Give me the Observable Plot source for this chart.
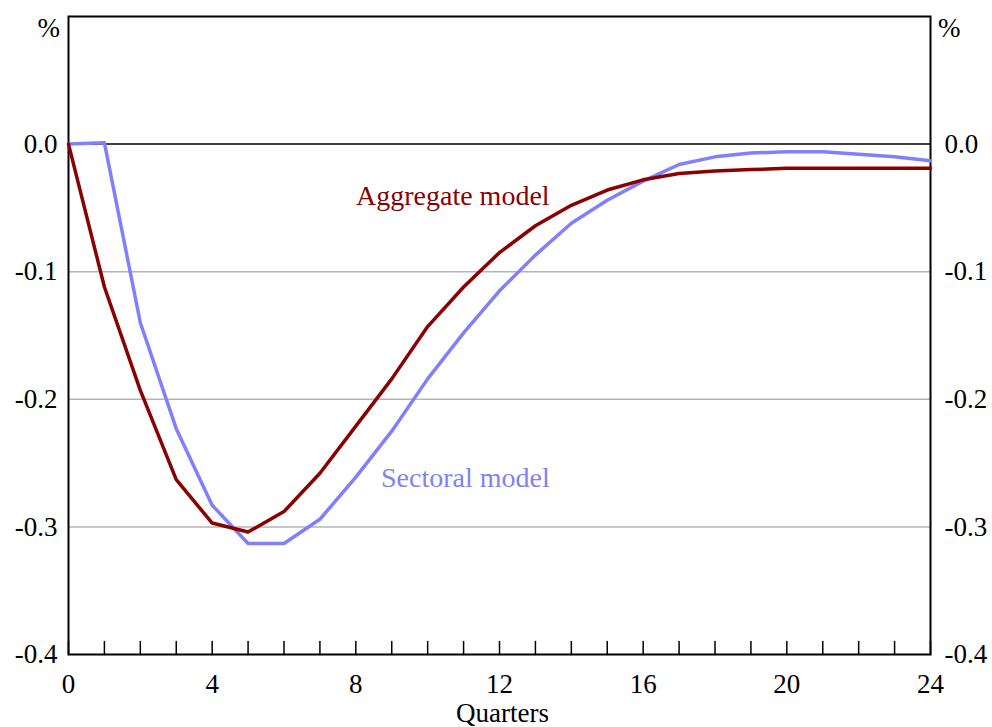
<!DOCTYPE html>
<html><head><meta charset="utf-8">
<script src="https://cdn.jsdelivr.net/npm/d3@7"></script>
<script src="https://cdn.jsdelivr.net/npm/@observablehq/plot@0.6"></script>
<style>body{margin:0;background:#fff}</style>
</head><body><div id="chart"></div>
<script>
const quarters = [0,1,2,3,4,5,6,7,8,9,10,11,12,13,14,15,16,17,18,19,20,21,22,23,24];
const aggregate = [0,-0.112,-0.193,-0.263,-0.297,-0.304,-0.288,-0.258,-0.221,-0.184,-0.143,-0.112,-0.085,-0.064,-0.048,-0.036,-0.028,-0.023,-0.021,-0.020,-0.019,-0.019,-0.019,-0.019,-0.019];
const sectoral = [0,0.001,-0.140,-0.223,-0.283,-0.313,-0.313,-0.294,-0.261,-0.225,-0.184,-0.148,-0.115,-0.087,-0.062,-0.044,-0.029,-0.016,-0.010,-0.007,-0.006,-0.006,-0.008,-0.010,-0.013];
const xTickLabels = [0,4,8,12,16,20,24];
const yTicks = [-0.4,-0.3,-0.2,-0.1,0.0];
const gridValues = [-0.1,-0.2,-0.3];
const seriesLabels = [
  {text:"Aggregate model", q:10.7, v:-0.041, series:"aggregate"},
  {text:"Sectoral model", q:11.05, v:-0.262, series:"sectoral"}
];
const colors = {aggregate:"#8b0000", sectoral:"#8080ff"};

const aggData = quarters.map((q,i)=>({q, v:aggregate[i]}));
const secData = quarters.map((q,i)=>({q, v:sectoral[i]}));
const fmt = d => d.toFixed(1);
const tickShape = {draw(context, l){ context.moveTo(0,0); context.lineTo(0,-l); }};

const chart = Plot.plot({
  width: 992, height: 727,
  marginLeft: 68, marginRight: 62, marginTop: 16, marginBottom: 73,
  style: {fontFamily: "'Liberation Serif', 'Times New Roman', serif", fontSize: "27px", color: "#000", background: "#fff"},
  x: {domain: [0,24]},
  y: {domain: [-0.4,0.1]},
  marks: [
    Plot.ruleY(gridValues, {stroke:"#b4b4b4", strokeWidth:1.5}),
    Plot.ruleY([0], {stroke:"#000", strokeWidth:1.5}),
    Plot.frame({stroke:"#000", strokeWidth:2}),
    Plot.vector(quarters, {x: d=>d, y: ()=>-0.4, length: 13, rotate: 0, anchor:"start", shape: tickShape, stroke:"#000", strokeWidth:1.5}),
    Plot.axisX(xTickLabels, {tickSize:0, tickPadding:19, tickFormat: d=>String(d), label:null, fontSize:27}),
    Plot.axisY(yTicks, {anchor:"left", tickSize:0, tickPadding:11, tickFormat: fmt, label:null, fontSize:27}),
    Plot.axisY(yTicks, {anchor:"right", tickSize:0, tickPadding:14, tickFormat: fmt, label:null, fontSize:27}),
    Plot.text(["%"], {frameAnchor:"top-left", lineAnchor:"middle", dx:-31, dy:12, fontSize:27}),
    Plot.text(["%"], {frameAnchor:"top-right", lineAnchor:"middle", dx:30, dy:12, fontSize:27}),
    Plot.text(["Quarters"], {frameAnchor:"bottom", lineAnchor:"middle", dx:3, dy:59, fontSize:27}),
    Plot.line(secData, {x:"q", y:"v", stroke: colors.sectoral, strokeWidth:3.5}),
    Plot.line(aggData, {x:"q", y:"v", stroke: colors.aggregate, strokeWidth:3.5}),
    Plot.text(seriesLabels, {x:"q", y:"v", text:"text", fill: d=>colors[d.series], fontSize:28})
  ]
});
document.getElementById("chart").appendChild(chart);
</script>
</body></html>
